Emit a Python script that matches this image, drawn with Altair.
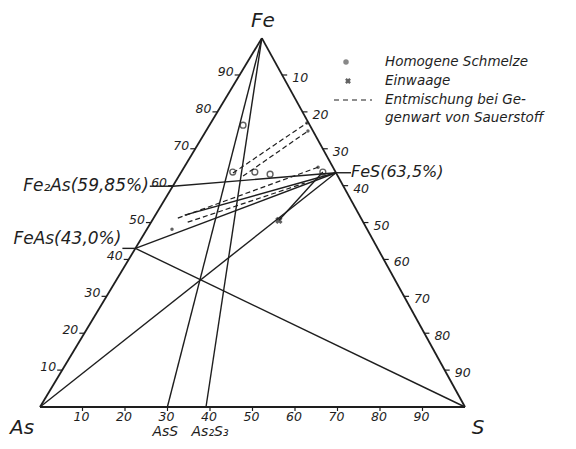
import altair as alt
import pandas as pd

# ---------------- data (wt.-%) ----------------
compound_names = ["Fe₂As", "FeAs", "FeS", "AsS", "As₂S₃"]
compound_fe = [59.85, 43.0, 63.5, 0.0, 0.0]
compound_s = [0.0, 0.0, 36.5, 29.97, 39.06]
compound_labels = ["Fe₂As(59,85%)", "FeAs(43,0%)", "FeS(63,5%)", "AsS", "As₂S₃"]

tick_values = [10, 20, 30, 40, 50, 60, 70, 80, 90]

# homogeneous melt (open circles)
melt_fe = [63.7, 63.7, 63.1, 63.7, 76.4]
melt_s = [12.1, 17.3, 21.2, 33.3, 7.9]

# weighed-in composition (x)
weigh_fe = [50.6]
weigh_s = [29.8]

# solid tie lines
tie_fe0 = [52.0, 50.6]
tie_s0 = [6.9, 29.8]
tie_fe1 = [63.5, 63.7]
tie_s1 = [36.5, 33.3]

# dashed lines (separation in presence of oxygen)
dash_fe0 = [51.2, 50.1, 63.4, 62.6]
dash_s0 = [5.7, 8.6, 12.3, 15.1]
dash_fe1 = [65.0, 60.7, 77.0, 74.8]
dash_s1 = [31.5, 30.6, 22.6, 24.0]

# small end dots
dot_fe = [48.2, 77.0, 74.8, 65.0]
dot_s = [5.9, 22.6, 24.0, 31.5]

legend_labels = ["Homogene Schmelze", "Einwaage", "Entmischung bei Ge-", "genwart von Sauerstoff"]

# ---------------- geometry ----------------
PX = 4.25               # pixels per unit (As–S edge = 100 units)
AS_PX, AS_PY = 40, 407  # page position of As corner
FE_X, FE_Y = 52.2, 86.8  # apex position in units


def tern(fe, s):
    return (s + fe / 100 * FE_X, fe / 100 * FE_Y)


def shift(p, dx=0.0, dy=0.0):  # pixel offsets, dy positive = down
    return (p[0] + dx / PX, p[1] - dy / PX)


def page(px, py):
    return ((px - AS_PX) / PX, (AS_PY - py) / PX)


FE, AS, S = tern(100, 0), tern(0, 0), tern(0, 100)
P = {n: tern(f, s) for n, f, s in zip(compound_names, compound_fe, compound_s)}

segs = []


def seg(p, q, kind):
    segs.append(dict(x=p[0], y=p[1], x2=q[0], y2=q[1], kind=kind))


seg(FE, AS, "edge")
seg(AS, S, "edge")
seg(S, FE, "edge")
seg(FE, P["AsS"], "solid")
seg(FE, P["As₂S₃"], "solid")
seg(AS, P["FeS"], "solid")
seg(P["FeAs"], S, "solid")
seg(P["Fe₂As"], P["FeS"], "solid")
seg(P["FeAs"], P["FeS"], "solid")
# leaders to labels
seg(P["Fe₂As"], shift(P["Fe₂As"], -23), "solid")
seg(P["FeAs"], shift(P["FeAs"], -13), "solid")
seg(P["FeS"], shift(P["FeS"], 15), "solid")
for a, b, c, d in zip(tie_fe0, tie_s0, tie_fe1, tie_s1):
    seg(tern(a, b), tern(c, d), "solid")
for a, b, c, d in zip(dash_fe0, dash_s0, dash_fe1, dash_s1):
    seg(tern(a, b), tern(c, d), "dash")

# ticks
tick_labels = []
for v in tick_values:
    pl = tern(v, 0)
    seg(pl, shift(pl, -5), "tick")
    q = shift(pl, -14, -3)
    tick_labels.append(dict(x=q[0], y=q[1], t=str(v)))
    pr = tern(100 - v, v)
    seg(pr, shift(pr, 5), "tick")
    q = shift(pr, 18, 3)
    tick_labels.append(dict(x=q[0], y=q[1], t=str(v)))
    pb = tern(0, v)
    seg(pb, shift(pb, 0, 4), "tick")
    q = shift(pb, -1, 10)
    tick_labels.append(dict(x=q[0], y=q[1], t=str(v)))

segdf = pd.DataFrame(segs)

xs = alt.Scale(domain=[(8 - AS_PX) / PX, (568 - AS_PX) / PX], nice=False, zero=False)
ys = alt.Scale(domain=[(AS_PY - 441) / PX, (AS_PY - 8) / PX], nice=False, zero=False)
X = alt.X("x:Q", scale=xs, axis=None)
Y = alt.Y("y:Q", scale=ys, axis=None)
INK = "#1e1e1e"
FONT = "DejaVu Sans"


def rules(kind, **kw):
    return alt.Chart(segdf[segdf.kind == kind]).mark_rule(color=INK, **kw).encode(
        x=X, y=Y, x2="x2:Q", y2="y2:Q")


def texts(rows, **kw):
    return alt.Chart(pd.DataFrame(rows)).mark_text(
        color=INK, font=FONT, fontStyle="italic", **kw).encode(x=X, y=Y, text="t:N")


layers = [
    rules("edge", strokeWidth=1.8),
    rules("solid", strokeWidth=1.4),
    rules("dash", strokeWidth=1.2, strokeDash=[5, 3]),
    rules("tick", strokeWidth=1.2),
]

melt = pd.DataFrame([dict(x=tern(f, s)[0], y=tern(f, s)[1]) for f, s in zip(melt_fe, melt_s)])
layers.append(alt.Chart(melt).mark_point(shape="circle", size=34, filled=False,
                                         color=INK, strokeWidth=1.4).encode(x=X, y=Y))
dots = pd.DataFrame([dict(x=tern(f, s)[0], y=tern(f, s)[1]) for f, s in zip(dot_fe, dot_s)])
layers.append(alt.Chart(dots).mark_point(shape="circle", size=12, filled=True,
                                         color=INK).encode(x=X, y=Y))
weigh = pd.DataFrame([dict(x=tern(f, s)[0], y=tern(f, s)[1]) for f, s in zip(weigh_fe, weigh_s)])
layers.append(alt.Chart(weigh).mark_point(shape="cross", angle=45, size=55, filled=True,
                                          color=INK).encode(x=X, y=Y))

# tick labels
layers.append(texts(tick_labels, fontSize=12.5, align="center", baseline="middle"))

# corner labels
corner = []
for p, dx, dy, t in [(FE, 1, -17, "Fe"), (AS, -18, 21, "As"), (S, 13, 21, "S")]:
    q = shift(p, dx, dy)
    corner.append(dict(x=q[0], y=q[1], t=t))
layers.append(texts(corner, fontSize=20, align="center", baseline="middle"))

# compound labels
bottom_c = []
for n, dx in [("AsS", -2), ("As₂S₃", 4)]:
    q = shift(P[n], dx, 25)
    bottom_c.append(dict(x=q[0], y=q[1], t=compound_labels[compound_names.index(n)]))
layers.append(texts(bottom_c, fontSize=14, align="center", baseline="middle"))

left_c = []
for n, dx, dy in [("Fe₂As", -24, 0), ("FeAs", -14, -9)]:
    q = shift(P[n], dx, dy)
    left_c.append(dict(x=q[0], y=q[1], t=compound_labels[compound_names.index(n)]))
layers.append(texts(left_c, fontSize=17, align="right", baseline="middle"))

q = shift(P["FeS"], 15, -1)
layers.append(texts([dict(x=q[0], y=q[1], t=compound_labels[2])], fontSize=16,
                    align="left", baseline="middle"))

# legend
leg_y = [62, 81, 100, 118]
leg_rows = []
for lab, yy in zip(legend_labels, leg_y):
    q = page(385, yy)
    leg_rows.append(dict(x=q[0], y=q[1], t=lab))
layers.append(texts(leg_rows, fontSize=13.5, align="left", baseline="middle"))
q = page(346, leg_y[0])
layers.append(alt.Chart(pd.DataFrame([dict(x=q[0], y=q[1])])).mark_point(
    shape="circle", size=30, filled=True, color="#555").encode(x=X, y=Y))
q = page(348, leg_y[1])
layers.append(alt.Chart(pd.DataFrame([dict(x=q[0], y=q[1])])).mark_point(
    shape="cross", angle=45, size=35, filled=True, color=INK).encode(x=X, y=Y))
a, b = page(334, leg_y[2]), page(372, leg_y[2])
layers.append(alt.Chart(pd.DataFrame([dict(x=a[0], y=a[1], x2=b[0], y2=b[1])])).mark_rule(
    color=INK, strokeWidth=1.2, strokeDash=[5, 4]).encode(x=X, y=Y, x2="x2:Q", y2="y2:Q"))

chart = alt.layer(*layers).properties(
    width=560, height=433, padding=0,
    autosize=alt.AutoSizeParams(type="none"),
    background="white",
).configure_view(stroke=None)

chart.save("out.html", embed_options={"renderer": "svg", "actions": False})
